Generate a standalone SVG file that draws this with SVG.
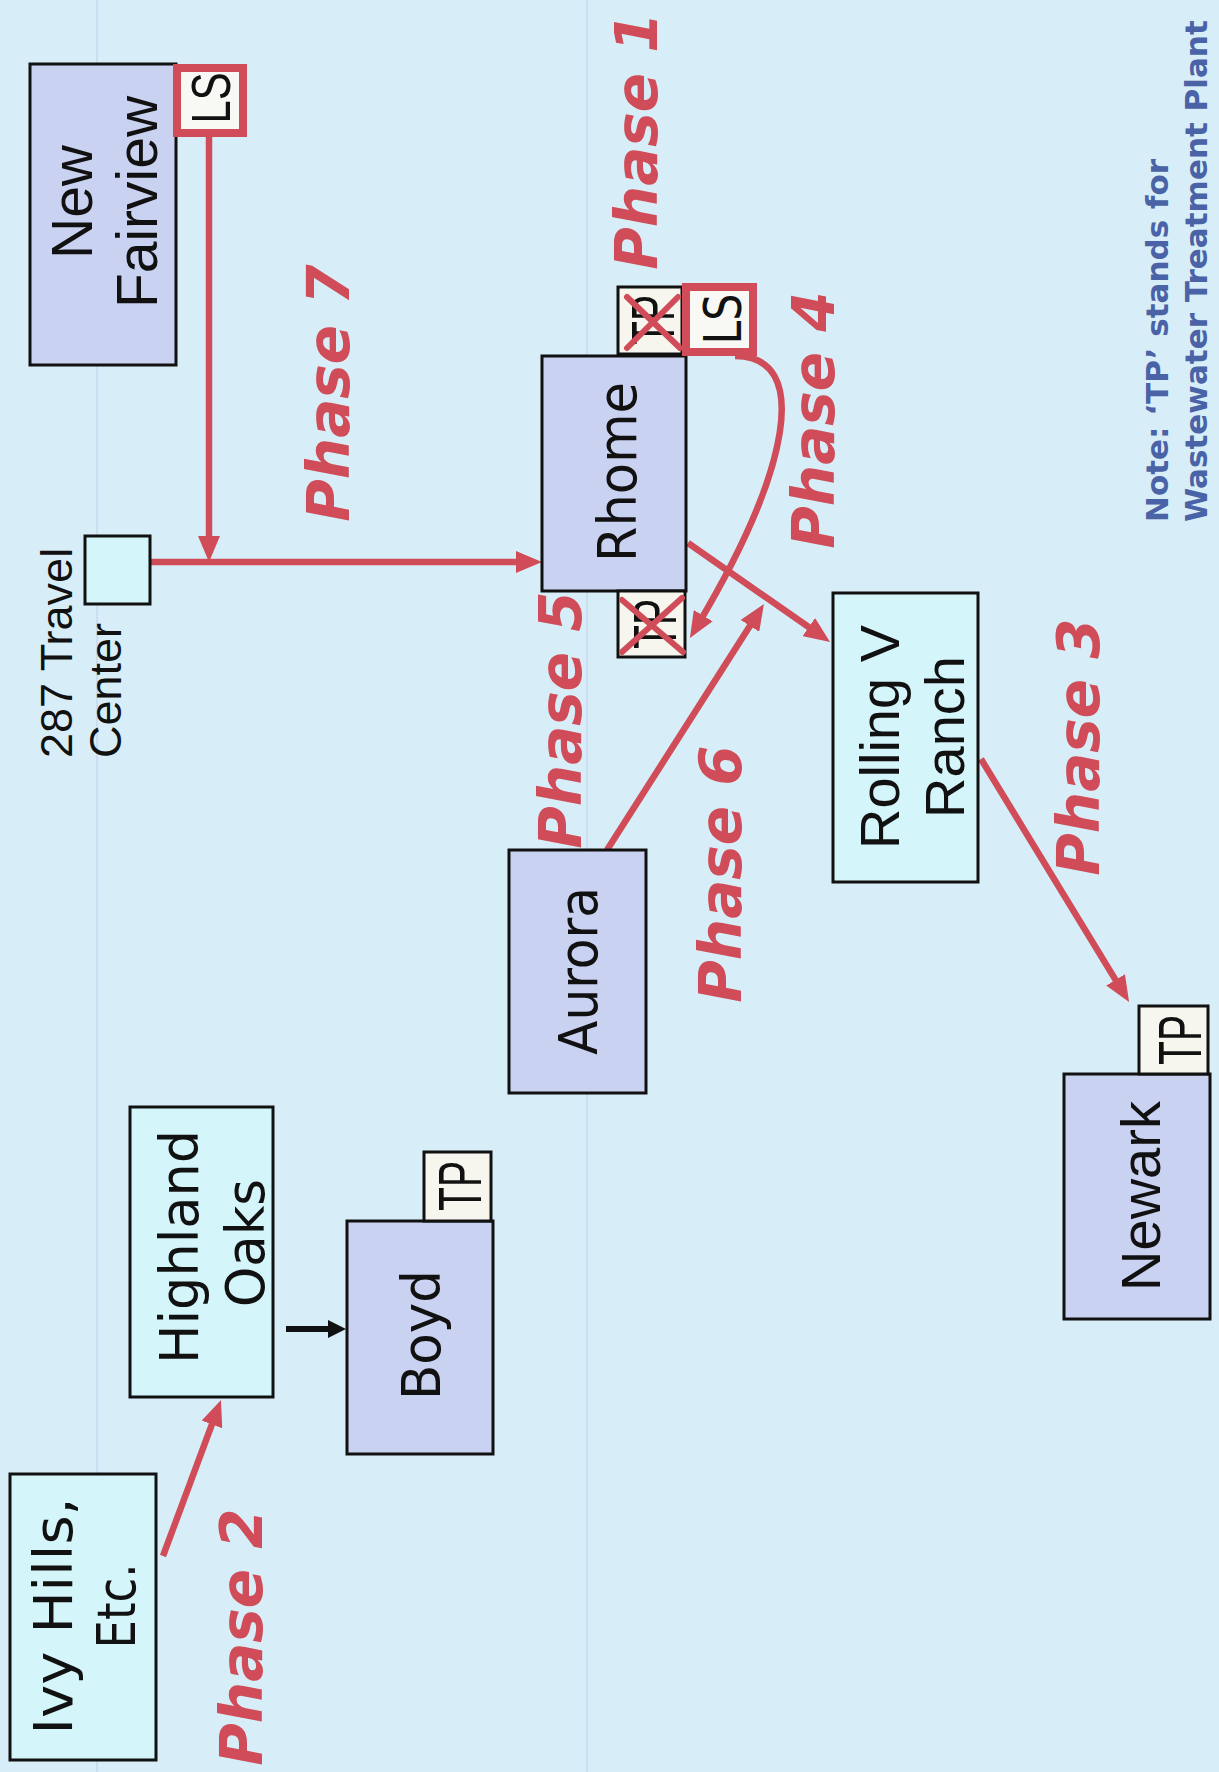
<svg xmlns="http://www.w3.org/2000/svg" width="1219" height="1772" viewBox="0 0 1219 1772">
<defs>
<marker id="ar" markerUnits="userSpaceOnUse" viewBox="0 0 26 22" refX="12" refY="11" markerWidth="26" markerHeight="22" orient="auto"><path d="M0,0 L26,11 L0,22 z" fill="#cf4c58"/></marker>
<marker id="arb" markerUnits="userSpaceOnUse" viewBox="0 0 18 18" refX="6" refY="9" markerWidth="18" markerHeight="18" orient="auto"><path d="M0,0 L18,9 L0,18 z" fill="#111"/></marker>
<style>
.lav{fill:#cad2f2;stroke:#111;stroke-width:3}
.cyan{fill:#d4f5fa;stroke:#111;stroke-width:3}
.tp{fill:#f6f6ef;stroke:#111;stroke-width:3}
.ls{fill:#f8f8f4;stroke:#cf4c58;stroke-width:8}
.red{stroke:#cf4c58;stroke-width:6.5;fill:none}
.x{stroke:#cf4c58;stroke-width:6;stroke-linecap:round}
.arial{font-family:"Liberation Sans",Arial,sans-serif;fill:#111}
.tah{font-family:"DejaVu Sans",Verdana,sans-serif;fill:#111}
.ph{font-family:"DejaVu Sans",Verdana,sans-serif;font-weight:bold;font-style:italic;font-size:58px;fill:#cf4c58}
.note{font-family:"DejaVu Sans",Verdana,sans-serif;font-weight:bold;font-size:31px;fill:#4a62a6}
.faint{stroke:#c4d2ee;stroke-width:2;opacity:0.6}
</style>
</defs>
<rect x="0" y="0" width="1219" height="1772" fill="#d7eef8"/>
<line class="faint" x1="97" y1="0" x2="97" y2="1772"/>
<line class="faint" x1="587" y1="0" x2="587" y2="1772"/>

<g id="connectors">
<line class="red" x1="209" y1="137" x2="209" y2="548" marker-end="url(#ar)"/>
<line class="red" x1="150" y1="562" x2="528" y2="562" marker-end="url(#ar)"/>
<path class="red" d="M735 356 C812 356 790 470 697.1 626" marker-end="url(#ar)"/>
<line class="red" x1="688" y1="543" x2="818.6" y2="634" marker-end="url(#ar)"/>
<line class="red" x1="607" y1="850" x2="756.4" y2="615.8" marker-end="url(#ar)"/>
<line class="red" x1="981" y1="759" x2="1121.8" y2="990.1" marker-end="url(#ar)"/>
<line class="red" x1="163" y1="1556" x2="216.1" y2="1413.2" marker-end="url(#ar)"/>
<line x1="286" y1="1329" x2="334" y2="1329" stroke="#111" stroke-width="6" marker-end="url(#arb)"/>
</g>

<g id="new-fairview">
<rect class="lav" x="30" y="64" width="146" height="301"/>
<text class="arial" font-size="57" text-anchor="middle" transform="translate(92 202) rotate(-90)">New</text>
<text class="arial" font-size="57" text-anchor="middle" transform="translate(157 202) rotate(-90)">Fairview</text>
<rect class="ls" x="177" y="68" width="66" height="65"/>
<text class="arial" font-size="56" text-anchor="middle" textLength="51" lengthAdjust="spacingAndGlyphs" transform="translate(230 98) rotate(-90)">LS</text>
</g>

<g id="travel-center">
<rect class="cyan" x="85" y="536" width="65" height="68"/>
<text class="arial" font-size="45" transform="translate(72 758) rotate(-90)">287 Travel</text>
<text class="arial" font-size="45" transform="translate(121 758) rotate(-90)">Center</text>
</g>

<g id="rhome">
<rect class="lav" x="542" y="356" width="144" height="235"/>
<text class="tah" font-size="53" text-anchor="middle" textLength="180" lengthAdjust="spacingAndGlyphs" transform="translate(636 472) rotate(-90)">Rhome</text>
<rect class="tp" x="618" y="287" width="64" height="67"/>
<text class="arial" font-size="62" text-anchor="middle" textLength="50" lengthAdjust="spacingAndGlyphs" transform="translate(674 320) rotate(-90)">TP</text>
<line class="x" x1="627" y1="297" x2="680" y2="348"/>
<line class="x" x1="627" y1="348" x2="678" y2="297"/>
<rect class="ls" x="686" y="287" width="67" height="65"/>
<text class="tah" font-size="52" text-anchor="middle" textLength="51" lengthAdjust="spacingAndGlyphs" transform="translate(741 319) rotate(-90)">LS</text>
<rect class="tp" x="618" y="591" width="67" height="66"/>
<text class="arial" font-size="62" text-anchor="middle" textLength="50" lengthAdjust="spacingAndGlyphs" transform="translate(676 624) rotate(-90)">TP</text>
<line class="x" x1="622" y1="600" x2="683" y2="652"/>
<line class="x" x1="622" y1="652" x2="682" y2="598"/>
</g>

<g id="rolling-v-ranch">
<rect class="cyan" x="833" y="593" width="145" height="289"/>
<text class="arial" font-size="56" text-anchor="middle" transform="translate(899 737) rotate(-90)">Rolling V</text>
<text class="arial" font-size="56" text-anchor="middle" transform="translate(964 737) rotate(-90)">Ranch</text>
</g>

<g id="aurora">
<rect class="lav" x="509" y="850" width="137" height="243"/>
<text class="tah" font-size="53" text-anchor="middle" textLength="168" lengthAdjust="spacingAndGlyphs" transform="translate(597 971) rotate(-90)">Aurora</text>
</g>

<g id="newark">
<rect class="lav" x="1064" y="1074" width="146" height="245"/>
<text class="arial" font-size="56" text-anchor="middle" transform="translate(1160 1196) rotate(-90)">Newark</text>
<rect class="tp" x="1139" y="1006" width="69" height="68"/>
<text class="arial" font-size="62" text-anchor="middle" textLength="50" lengthAdjust="spacingAndGlyphs" transform="translate(1201 1040) rotate(-90)">TP</text>
</g>

<g id="highland-oaks">
<rect class="cyan" x="130" y="1107" width="143" height="290"/>
<text class="tah" font-size="54" text-anchor="middle" textLength="234" lengthAdjust="spacingAndGlyphs" transform="translate(198 1247) rotate(-90)">Highland</text>
<text class="tah" font-size="54" text-anchor="middle" textLength="128" lengthAdjust="spacingAndGlyphs" transform="translate(264 1243) rotate(-90)">Oaks</text>
</g>

<g id="boyd">
<rect class="lav" x="347" y="1221" width="146" height="233"/>
<text class="tah" font-size="54" text-anchor="middle" textLength="130" lengthAdjust="spacingAndGlyphs" transform="translate(440 1335) rotate(-90)">Boyd</text>
<rect class="tp" x="424" y="1152" width="67" height="69"/>
<text class="arial" font-size="62" text-anchor="middle" textLength="50" lengthAdjust="spacingAndGlyphs" transform="translate(481 1186) rotate(-90)">TP</text>
</g>

<g id="ivy-hills">
<rect class="cyan" x="10" y="1474" width="146" height="286"/>
<text class="tah" font-size="53" text-anchor="middle" textLength="237" lengthAdjust="spacingAndGlyphs" transform="translate(72 1616) rotate(-90)">Ivy Hills,</text>
<text class="tah" font-size="53" text-anchor="middle" textLength="85" lengthAdjust="spacingAndGlyphs" transform="translate(135 1606) rotate(-90)">Etc.</text>
</g>

<g id="labels">
<text class="ph" text-anchor="middle" transform="translate(657 141) rotate(-90)">Phase 1</text>
<text class="ph" text-anchor="middle" transform="translate(349 393) rotate(-90)">Phase 7</text>
<text class="ph" text-anchor="middle" transform="translate(581 720) rotate(-90)">Phase 5</text>
<text class="ph" text-anchor="middle" transform="translate(741 874) rotate(-90)">Phase 6</text>
<text class="ph" text-anchor="middle" transform="translate(834 420) rotate(-90)">Phase 4</text>
<text class="ph" text-anchor="middle" transform="translate(1099 747) rotate(-90)">Phase 3</text>
<text class="ph" text-anchor="middle" transform="translate(262 1637) rotate(-90)">Phase 2</text>
</g>

<g id="note">
<text class="note" transform="translate(1168 522) rotate(-90)">Note: ‘TP’ stands for</text>
<text class="note" transform="translate(1207 522) rotate(-90)">Wastewater Treatment Plant</text>
</g>
</svg>
